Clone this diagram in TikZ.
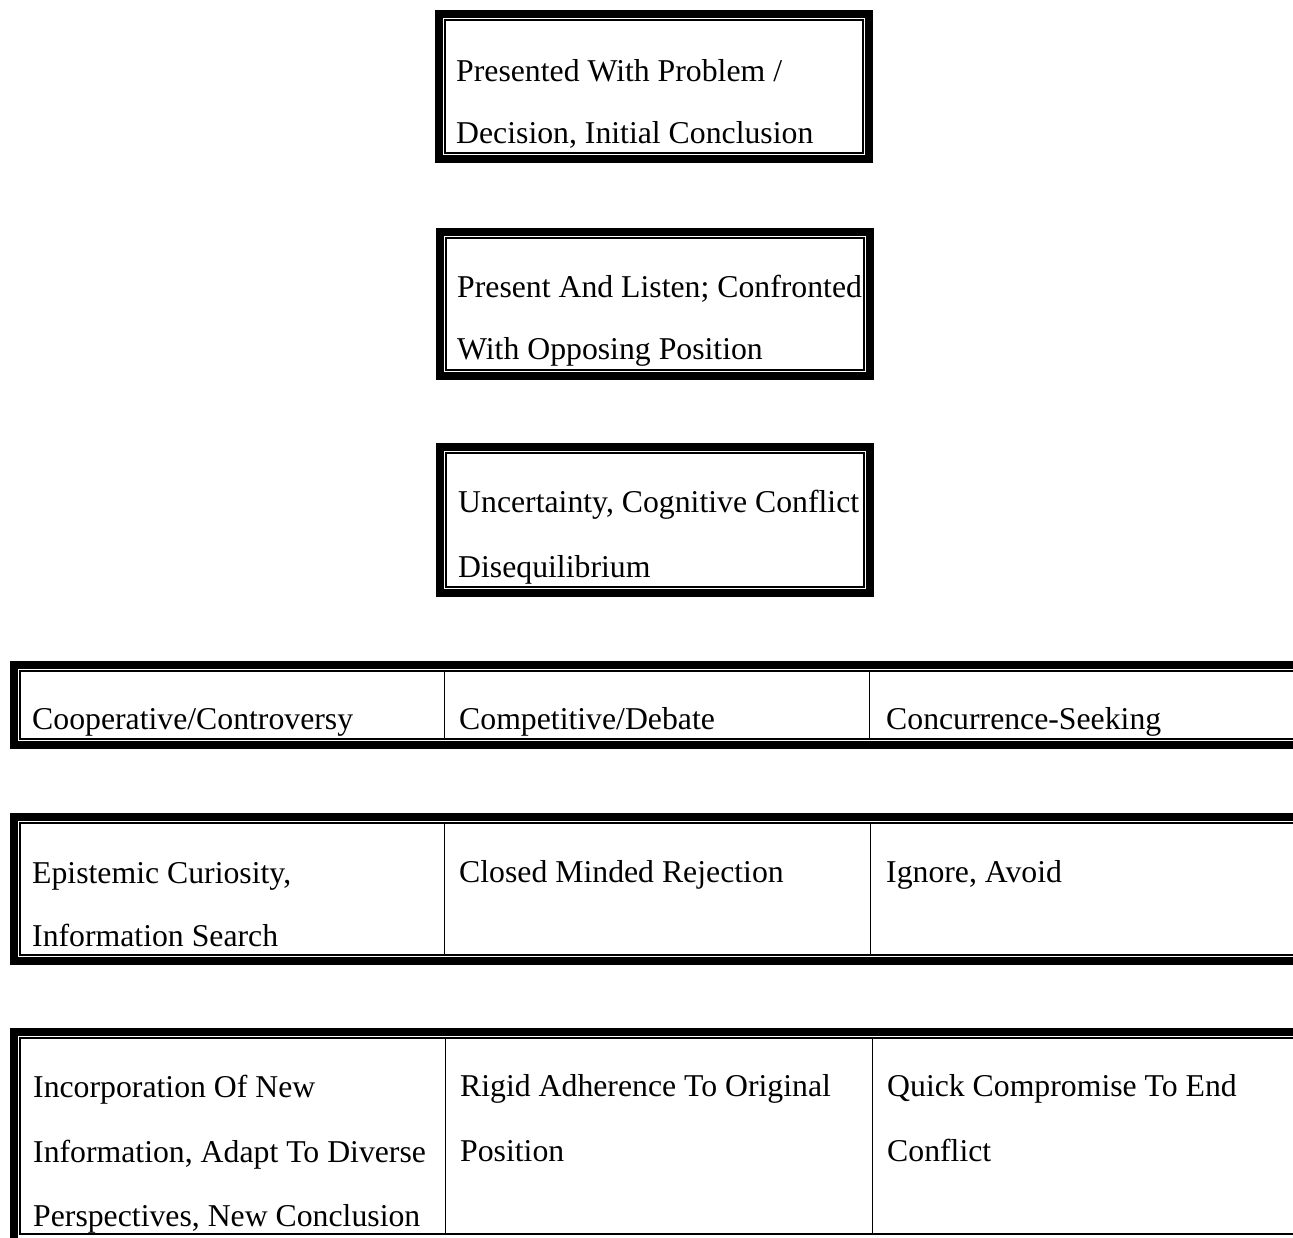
\documentclass[tikz,border=0pt]{standalone}
\usepackage{fontspec}
\setmainfont{Liberation Serif}
\begin{document}
\begin{tikzpicture}[x=1pt,y=-1pt,
  thickframe/.style={line width=8pt,draw=black},
  thinframe/.style={line width=1.2pt,draw=black},
  divider/.style={line width=1pt,draw=black},
  lbl/.style={anchor=base west,inner sep=0pt,font=\fontsize{31.75}{38}\selectfont}]
\useasboundingbox[fill=white] (0,0) rectangle (1293,1237);
\clip (0,0) rectangle (1293,1237);
% box 1
\draw[thickframe] (439,14) rectangle (869,159);
\draw[thinframe] (445,20) rectangle (863,153);
\node[lbl] (b1a) at (456,81) {Presented With Problem /};
\node[lbl] (b1b) at (456,143) {Decision, Initial Conclusion};
% box 2
\draw[thickframe] (440,232) rectangle (870,376);
\draw[thinframe] (446,238) rectangle (864,370);
\node[lbl] (b2a) at (457,297) {Present And Listen; Confronted};
\node[lbl] (b2b) at (457,359) {With Opposing Position};
% box 3
\draw[thickframe] (440,447) rectangle (870,593);
\draw[thinframe] (446,453) rectangle (864,587);
\node[lbl] (b3a) at (458,512) {Uncertainty, Cognitive Conflict};
\node[lbl] (b3b) at (458,577) {Disequilibrium};
% row 1
\draw[thickframe] (14,665) rectangle (1310,745);
\draw[thinframe] (20,671) rectangle (1300,739);
\draw[divider] (444,671) -- (444,739);
\draw[divider] (869,671) -- (869,739);
\node[lbl] (r1a) at (32,729) {Cooperative/Controversy};
\node[lbl] (r1b) at (459,729) {Competitive/Debate};
\node[lbl] (r1c) at (886,729) {Concurrence-Seeking};
% row 2
\draw[thickframe] (14,817) rectangle (1310,961);
\draw[thinframe] (20,823) rectangle (1300,955);
\draw[divider] (444,823) -- (444,955);
\draw[divider] (870,823) -- (870,955);
\node[lbl] (r2a1) at (32,883) {Epistemic Curiosity,};
\node[lbl] (r2a2) at (32,946) {Information Search};
\node[lbl] (r2b) at (459,882) {Closed Minded Rejection};
\node[lbl] (r2c) at (886,882) {Ignore, Avoid};
% row 3
\draw[thickframe] (14,1032) rectangle (1310,1250);
\draw[thinframe] (20,1038) rectangle (1300,1234);
\draw[divider] (445,1038) -- (445,1234);
\draw[divider] (872,1038) -- (872,1234);
\node[lbl] (r3a1) at (33,1097) {Incorporation Of New};
\node[lbl] (r3a2) at (33,1162) {Information, Adapt To Diverse};
\node[lbl] (r3a3) at (33,1226) {Perspectives, New Conclusion};
\node[lbl] (r3b1) at (460,1096) {Rigid Adherence To Original};
\node[lbl] (r3b2) at (460,1161) {Position};
\node[lbl] (r3c1) at (887,1096) {Quick Compromise To End};
\node[lbl] (r3c2) at (887,1161) {Conflict};
\end{tikzpicture}
\end{document}
